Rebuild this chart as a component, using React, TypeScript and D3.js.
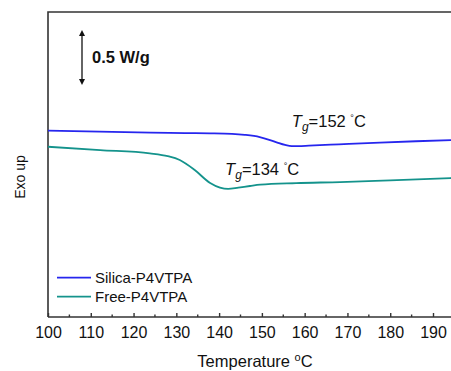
import * as React from 'react';
import * as d3 from 'd3';

// DSC traces, temperature in °C, heat flow in W/g (arbitrary offset)
const silicaT = [100, 112, 124, 132, 137.9, 143, 146, 149.5, 151.9, 153.6, 155.4, 157, 158.5, 161, 168, 177.6, 186, 194.5];
const silicaQ = [1.695, 1.685, 1.677, 1.672, 1.67, 1.665, 1.656, 1.636, 1.609, 1.586, 1.564, 1.553, 1.554, 1.558, 1.57, 1.586, 1.598, 1.609];
const freeT = [100, 112.2, 123.8, 128, 130.8, 134.3, 137.9, 140.2, 142.1, 144.5, 147.2, 149.6, 158, 168.3, 180, 194.5];
const freeQ = [1.548, 1.518, 1.488, 1.462, 1.427, 1.336, 1.218, 1.176, 1.164, 1.176, 1.191, 1.203, 1.217, 1.227, 1.243, 1.264];
const seriesNames = ["Silica-P4VTPA", "Free-P4VTPA"];
const seriesColors = ["#2626ee", "#14938c"];
const xTicks = [100, 110, 120, 130, 140, 150, 160, 170, 180, 190];
const tgLabels = [{t: 152, x: 157.0, q: 1.727}, {t: 134, x: 141.4, q: 1.291}];

class DscChart extends React.Component<any, any> {
    ref = React.createRef<SVGSVGElement>();
    componentDidMount() {
        this.createGraph();
    }
    componentDidUpdate() {
        this.createGraph();
    }

    createGraph() {
        let svg = d3.select(this.ref.current);
        svg.selectAll("*").remove();
        const font = "'Liberation Sans', Arial, sans-serif";
        let margin = {left: 48, top: 12, bottom: 317};
        let xScale = d3.scaleLinear().domain([100, 190]).range([margin.left, 433]);
        let yScale = d3.scaleLinear().domain([0, 2.773]).range([margin.bottom, margin.top]);

        // frame (right side runs off the picture)
        svg.append("path")
            .attr("d", "M" + margin.left + "," + margin.bottom + "V" + margin.top + "H" + (xScale(197)))
            .attr("fill", "none")
            .attr("stroke", "#333")
            .attr("stroke-width", 1.6);

        let xAxis = d3.axisBottom(xScale)
            .tickValues(xTicks)
            .tickSize(-4)
            .tickPadding(10)
            .tickFormat(d3.format("d"));
        let gx = svg.append("g")
            .attr("transform", "translate(0," + margin.bottom + ")")
            .call(xAxis);
        gx.select(".domain").remove();
        gx.append("line")
            .attr("x1", margin.left).attr("x2", xScale(197))
            .attr("stroke", "#333").attr("stroke-width", 1.6);
        gx.selectAll(".tick line").attr("stroke", "#333").attr("stroke-width", 1.4);
        gx.selectAll(".tick text")
            .attr("fill", "#111")
            .style("font-size", "16px")
            .style("font-family", font);
        let minor = d3.range(105, 196, 10);
        gx.selectAll(".minor")
            .data(minor)
            .enter()
            .append("line")
            .attr("x1", d => xScale(d)).attr("x2", d => xScale(d))
            .attr("y1", 0).attr("y2", -2.5)
            .attr("stroke", "#333").attr("stroke-width", 1.4);

        let line = d3.line<number[]>()
            .x(d => xScale(d[0]))
            .y(d => yScale(d[1]))
            .curve(d3.curveMonotoneX);
        let series = [
            d3.zip(silicaT, silicaQ),
            d3.zip(freeT, freeQ)
        ];
        svg.selectAll(".trace")
            .data(series)
            .enter()
            .append("path")
            .attr("class", "trace")
            .attr("d", d => line(d as any))
            .attr("fill", "none")
            .attr("stroke", (d, i) => seriesColors[i])
            .attr("stroke-width", 1.8);

        // Tg annotations
        tgLabels.forEach(function(lab) {
            let t = svg.append("text")
                .attr("x", xScale(lab.x))
                .attr("y", yScale(lab.q))
                .style("font-size", "16.5px")
                .style("font-family", font)
                .attr("fill", "#111");
            t.append("tspan").style("font-style", "italic").text("T");
            t.append("tspan").style("font-style", "italic").style("font-size", "12px").attr("dy", 4).text("g");
            t.append("tspan").attr("dy", -4).text("=" + lab.t + " ");
            t.append("tspan").style("font-size", "9px").attr("dy", -6).text("°");
            t.append("tspan").attr("dy", 6).text("C");
        });

        // scale bar
        let arrowX = 82;
        let q0 = 2.61, q1 = q0 - 0.5;
        svg.append("line")
            .attr("x1", arrowX).attr("x2", arrowX)
            .attr("y1", yScale(q0) + 4).attr("y2", yScale(q1) - 4)
            .attr("stroke", "#111").attr("stroke-width", 1.3);
        svg.append("path")
            .attr("d", "M" + arrowX + "," + yScale(q0) + "l-3,6h6z")
            .attr("fill", "#111");
        svg.append("path")
            .attr("d", "M" + arrowX + "," + yScale(q1) + "l-3,-6h6z")
            .attr("fill", "#111");
        svg.append("text")
            .attr("x", 92)
            .attr("y", (yScale(q0) + yScale(q1)) / 2 + 6)
            .style("font-size", "16.5px")
            .style("font-weight", "bold")
            .style("font-family", font)
            .attr("fill", "#111")
            .text("0.5 W/g");

        // legend
        let leg = svg.selectAll(".legend")
            .data(seriesNames)
            .enter()
            .append("g")
            .attr("transform", (d, i) => "translate(57," + (277.7 + i * 19) + ")");
        leg.append("line")
            .attr("x1", 0).attr("x2", 34)
            .attr("stroke", (d, i) => seriesColors[i])
            .attr("stroke-width", 1.8);
        leg.append("text")
            .attr("x", 38)
            .attr("y", 5.5)
            .style("font-size", "15px")
            .style("font-family", font)
            .attr("fill", "#111")
            .text(d => d);

        // axis titles
        svg.append("text")
            .attr("transform", "translate(25,177) rotate(-90)")
            .attr("text-anchor", "middle")
            .style("font-size", "14px")
            .style("font-family", font)
            .attr("fill", "#111")
            .text("Exo up");
        let xt = svg.append("text")
            .attr("x", 255)
            .attr("y", 367)
            .attr("text-anchor", "middle")
            .style("font-size", "16.5px")
            .style("font-family", font)
            .attr("fill", "#111");
        xt.append("tspan").text("Temperature ");
        xt.append("tspan").style("font-size", "11px").attr("dy", -6).text("o");
        xt.append("tspan").attr("dy", 6).text("C");
    }

    render() {
        return (
            <svg ref={this.ref} width={451} height={371}
                 style={{position: "absolute", left: 0, top: 0, background: "#fff"}}>
            </svg>
        );
    }
}

export default function App() {
    return <DscChart/>;
}
